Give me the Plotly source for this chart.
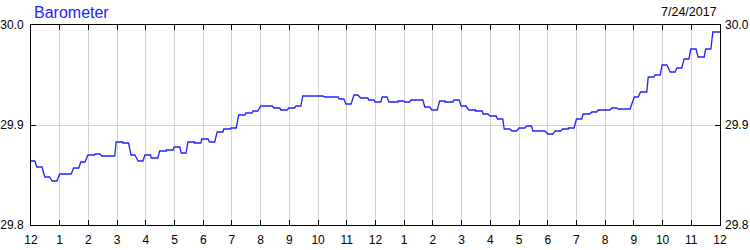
import plotly.graph_objects as go

# Barometer readings for 7/24/2017: each level holds from seg_start to seg_end (minutes after midnight)
seg_start = [0, 12, 29, 44, 60, 89, 104, 119, 134, 148,
             178, 192, 209, 224, 238, 251, 269, 283, 299, 314,
             328, 342, 357, 373, 389, 403, 418, 434, 449, 464,
             480, 508, 522, 539, 554, 568, 614, 644, 658, 675,
             689, 706, 719, 734, 748, 767, 781, 794, 823, 838,
             854, 865, 884, 899, 915, 929, 945, 959, 975, 989,
             1005, 1020, 1036, 1049, 1080, 1095, 1111, 1123, 1140, 1154,
             1172, 1185, 1214, 1227, 1261, 1274, 1290, 1304, 1319, 1336,
             1350, 1365, 1379, 1394, 1410, 1425]
seg_end = [8, 23, 39, 54, 84, 100, 113, 133, 144, 175,
           192, 204, 217, 234, 250, 265, 283, 297, 311, 324,
           342, 355, 370, 384, 401, 417, 429, 447, 462, 474,
           504, 520, 535, 551, 564, 610, 642, 654, 669, 683,
           704, 717, 731, 744, 767, 779, 791, 819, 833, 849,
           865, 882, 895, 909, 929, 943, 955, 972, 986, 1001,
           1015, 1032, 1046, 1074, 1091, 1107, 1123, 1135, 1151, 1168,
           1182, 1210, 1224, 1252, 1269, 1287, 1302, 1315, 1329, 1346,
           1360, 1375, 1390, 1407, 1421, 1440]
seg_value = [29.864, 29.858, 29.848, 29.844, 29.851, 29.857, 29.863, 29.870, 29.871, 29.869,
             29.883, 29.882, 29.870, 29.864, 29.870, 29.867, 29.874, 29.875, 29.878, 29.872,
             29.883, 29.882, 29.886, 29.883, 29.893, 29.896, 29.897, 29.910, 29.912, 29.914,
             29.919, 29.917, 29.915, 29.917, 29.919, 29.929, 29.928, 29.926, 29.921, 29.930,
             29.927, 29.925, 29.923, 29.928, 29.923, 29.924, 29.923, 29.925, 29.918, 29.915,
             29.924, 29.923, 29.925, 29.919, 29.915, 29.914, 29.911, 29.909, 29.906, 29.896,
             29.894, 29.897, 29.899, 29.894, 29.891, 29.894, 29.896, 29.897, 29.906, 29.911,
             29.913, 29.915, 29.917, 29.916, 29.928, 29.933, 29.948, 29.950, 29.960, 29.953,
             29.957, 29.966, 29.976, 29.968, 29.976, 29.993]

hour_ticks = list(range(25))
hour_labels = ["12", "1", "2", "3", "4", "5", "6", "7", "8", "9", "10", "11",
               "12", "1", "2", "3", "4", "5", "6", "7", "8", "9", "10", "11", "12"]
y_ticks = [29.8, 29.9, 30.0]
y_labels = ["29.8", "29.9", "30.0"]
title_text = "Barometer"
date_text = "7/24/2017"

xs, ys = [], []
for s, e, v in zip(seg_start, seg_end, seg_value):
    xs += [s / 60.0, e / 60.0]
    ys += [v, v]

BLUE = "#2222ff"
FONT = "Liberation Sans, Arial, sans-serif"

fig = go.Figure()
fig.add_trace(go.Scatter(x=xs, y=ys, mode="lines", line=dict(color=BLUE, width=1.3),
                         hoverinfo="skip", showlegend=False))
fig.add_trace(go.Scatter(x=xs, y=ys, mode="lines", yaxis="y2", opacity=0,
                         line=dict(color=BLUE, width=0.1), hoverinfo="skip", showlegend=False))

axis_common = dict(showline=True, linecolor="black", linewidth=1,
                   ticks="inside", ticklen=5, tickcolor="black", tickwidth=1,
                   showgrid=True, gridcolor="#d3d3d3", gridwidth=1, zeroline=False,
                   automargin=False,
                   tickfont=dict(family=FONT, size=12, color="black"))

fig.update_layout(
    width=750, height=250, autosize=False,
    margin=dict(l=31, r=30, t=25, b=25),
    paper_bgcolor="white", plot_bgcolor="white",
    xaxis=dict(range=[0, 24], tickmode="array", tickvals=hour_ticks, ticktext=hour_labels,
               mirror="ticks", ticklabelstandoff=4, **axis_common),
    yaxis=dict(range=[29.8, 30.0], tickmode="array", tickvals=y_ticks, ticktext=y_labels,
               mirror="ticks", ticklabelstandoff=4, **axis_common),
    yaxis2=dict(range=[29.8, 30.0], overlaying="y", side="right", tickmode="array",
                tickvals=y_ticks, ticktext=y_labels, showgrid=False, showline=False,
                ticks="", zeroline=False, ticklabelstandoff=4, automargin=False,
                tickfont=dict(family=FONT, size=12, color="black")),
    annotations=[
        dict(text=title_text, xref="paper", yref="paper", x=0, y=1.065, xanchor="left",
             yanchor="middle", xshift=1, showarrow=False,
             font=dict(family=FONT, size=16, color=BLUE)),
        dict(text=date_text, xref="paper", yref="paper", x=1, y=1.065, xanchor="right",
             yanchor="middle", xshift=-1, showarrow=False,
             font=dict(family=FONT, size=12.5, color="black")),
    ],
)

fig.write_html("out.html")
